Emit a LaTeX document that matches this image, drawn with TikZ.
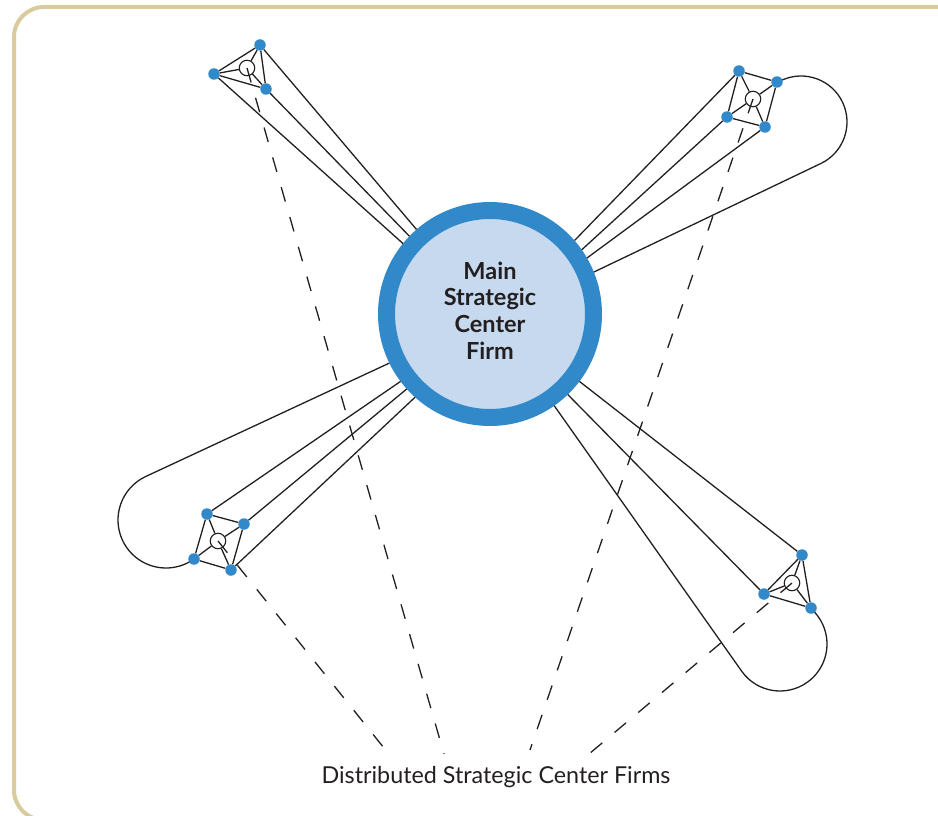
\documentclass[tikz,border=0pt]{standalone}
\usepackage{fontspec}
\setmainfont{Lato}
\usetikzlibrary{calc}
\definecolor{framecol}{HTML}{D9CB9E}
\definecolor{ringcol}{HTML}{3189CA}
\definecolor{corecol}{HTML}{C6D9EF}
\definecolor{inkcol}{HTML}{231F20}
\definecolor{dotcol}{HTML}{3189CA}
\begin{document}
\begin{tikzpicture}[x=1pt,y=1pt,
  link/.style={draw=inkcol, line width=1.3pt},
  dashlink/.style={draw=inkcol, line width=1.3pt, dash pattern=on 15pt off 16pt},
  hub/.style={circle, fill=dotcol, inner sep=0pt, minimum size=11.5pt},
  eye/.style={circle, draw=inkcol, fill=white, line width=1.1pt, inner sep=0pt, minimum size=15.5pt},
  mainfirm/.style={circle, draw=ringcol, line width=17pt, fill=corecol, minimum size=207pt, inner sep=0pt, text=inkcol, font=\bfseries\fontsize{23.5}{26.7}\selectfont},
  captext/.style={text=inkcol, font=\fontsize{23.3}{26}\selectfont, inner sep=0pt}]
\useasboundingbox (0,0) rectangle (938,-816);
\clip (0,0) rectangle (938,-816);
\draw[framecol, line width=4pt, rounded corners=30pt] (14,-7) rectangle (975,-820);

% main firm
\node[mainfirm] (M) at (490,-314) {\raisebox{4pt}{\begin{tabular}{@{}c@{}}Main\\Strategic\\Center\\Firm\end{tabular}}};

% top-left cluster
\node[hub] (A) at (260,-45) {};
\node[hub] (B) at (214,-74) {};
\node[hub] (C) at (266,-89) {};
\node[eye] (TLc) at (247,-68) {};
% top-right cluster
\node[hub] (P1) at (739,-71) {};
\node[hub] (P2) at (777,-82) {};
\node[hub] (P3) at (727,-117) {};
\node[hub] (P4) at (765,-127) {};
\node[eye] (TRc) at (753,-99) {};
% bottom-left cluster
\node[hub] (Q1) at (207,-514) {};
\node[hub] (Q2) at (244,-524) {};
\node[hub] (Q3) at (194,-559) {};
\node[hub] (Q4) at (231,-570) {};
\node[eye] (BLc) at (218,-541) {};
% bottom-right cluster
\node[hub] (R1) at (802,-555) {};
\node[hub] (R2) at (764,-594) {};
\node[hub] (R3) at (811,-608) {};
\node[eye] (BRc) at (792,-583) {};

% loop centres and dashed ends
\coordinate (TRo) at (801,-122);
\coordinate (BLo) at (166,-520);
\coordinate (BRo) at (780,-644);
\coordinate (TLe) at (444,-754);
\coordinate (TRe) at (530,-750);
\coordinate (BLe) at (388,-753);
\coordinate (BRe) at (589,-754);

% connectors to main firm
\draw[link] (A) -- (M.131.5);
\draw[link] (C) -- (M.136.4);
\draw[link] (B) -- (M.141.3);

\draw[link] (P1) -- (M.41);
\draw[link] (P3) -- (M.35.7);
\draw[link] (P4) -- (M.30.4);
\draw[link] (M.22.2) -- ($(TRo)+(-64.7:46)$) arc[start angle=-64.7, end angle=114, radius=46];

\draw[link] (M.-154.8) -- ($(BLo)+(115.3:48)$) arc[start angle=115.3, end angle=299, radius=48];
\draw[link] (Q1) -- (M.-143.7);
\draw[link] (Q2) -- (M.-138.9);
\draw[link] (Q4) -- (M.-132.9);

\draw[link] (R1) -- (M.-37.1);
\draw[link] (R2) -- (M.-46.1);
\draw[link] (M.-55) -- ($(BRo)+(-144.7:47)$) arc[start angle=-144.7, end angle=42.6, radius=47];

% cluster edges
\draw[link] (A) -- (B) -- (C) -- (A);
\draw[link] (A) -- (TLc); \draw[link] (B) -- (TLc); \draw[link] (C) -- (TLc);

\draw[link] (P1) -- (P2) -- (P4) -- (P3) -- (P1);
\draw[link] (P1) -- (TRc); \draw[link] (P2) -- (TRc); \draw[link] (P3) -- (TRc); \draw[link] (P4) -- (TRc);

\draw[link] (Q1) -- (Q2) -- (Q4) -- (Q3) -- (Q1);
\draw[link] (Q1) -- (BLc); \draw[link] (Q2) -- (BLc); \draw[link] (Q3) -- (BLc); \draw[link] (Q4) -- (BLc);

\draw[link] (R1) -- (R2) -- (R3) -- (R1);
\draw[link] (R1) -- (BRc); \draw[link] (R2) -- (BRc); \draw[link] (R3) -- (BRc);

% dashed links to caption
\draw[dashlink] (TLc.center) -- (TLe);
\draw[dashlink] (TRc.center) -- (TRe);
\draw[dashlink] (BLc.center) -- (BLe);
\draw[dashlink] (BRc.center) -- (BRe);

\node[captext] (cap) at (496,-777) {Distributed Strategic Center Firms};
\end{tikzpicture}
\end{document}
